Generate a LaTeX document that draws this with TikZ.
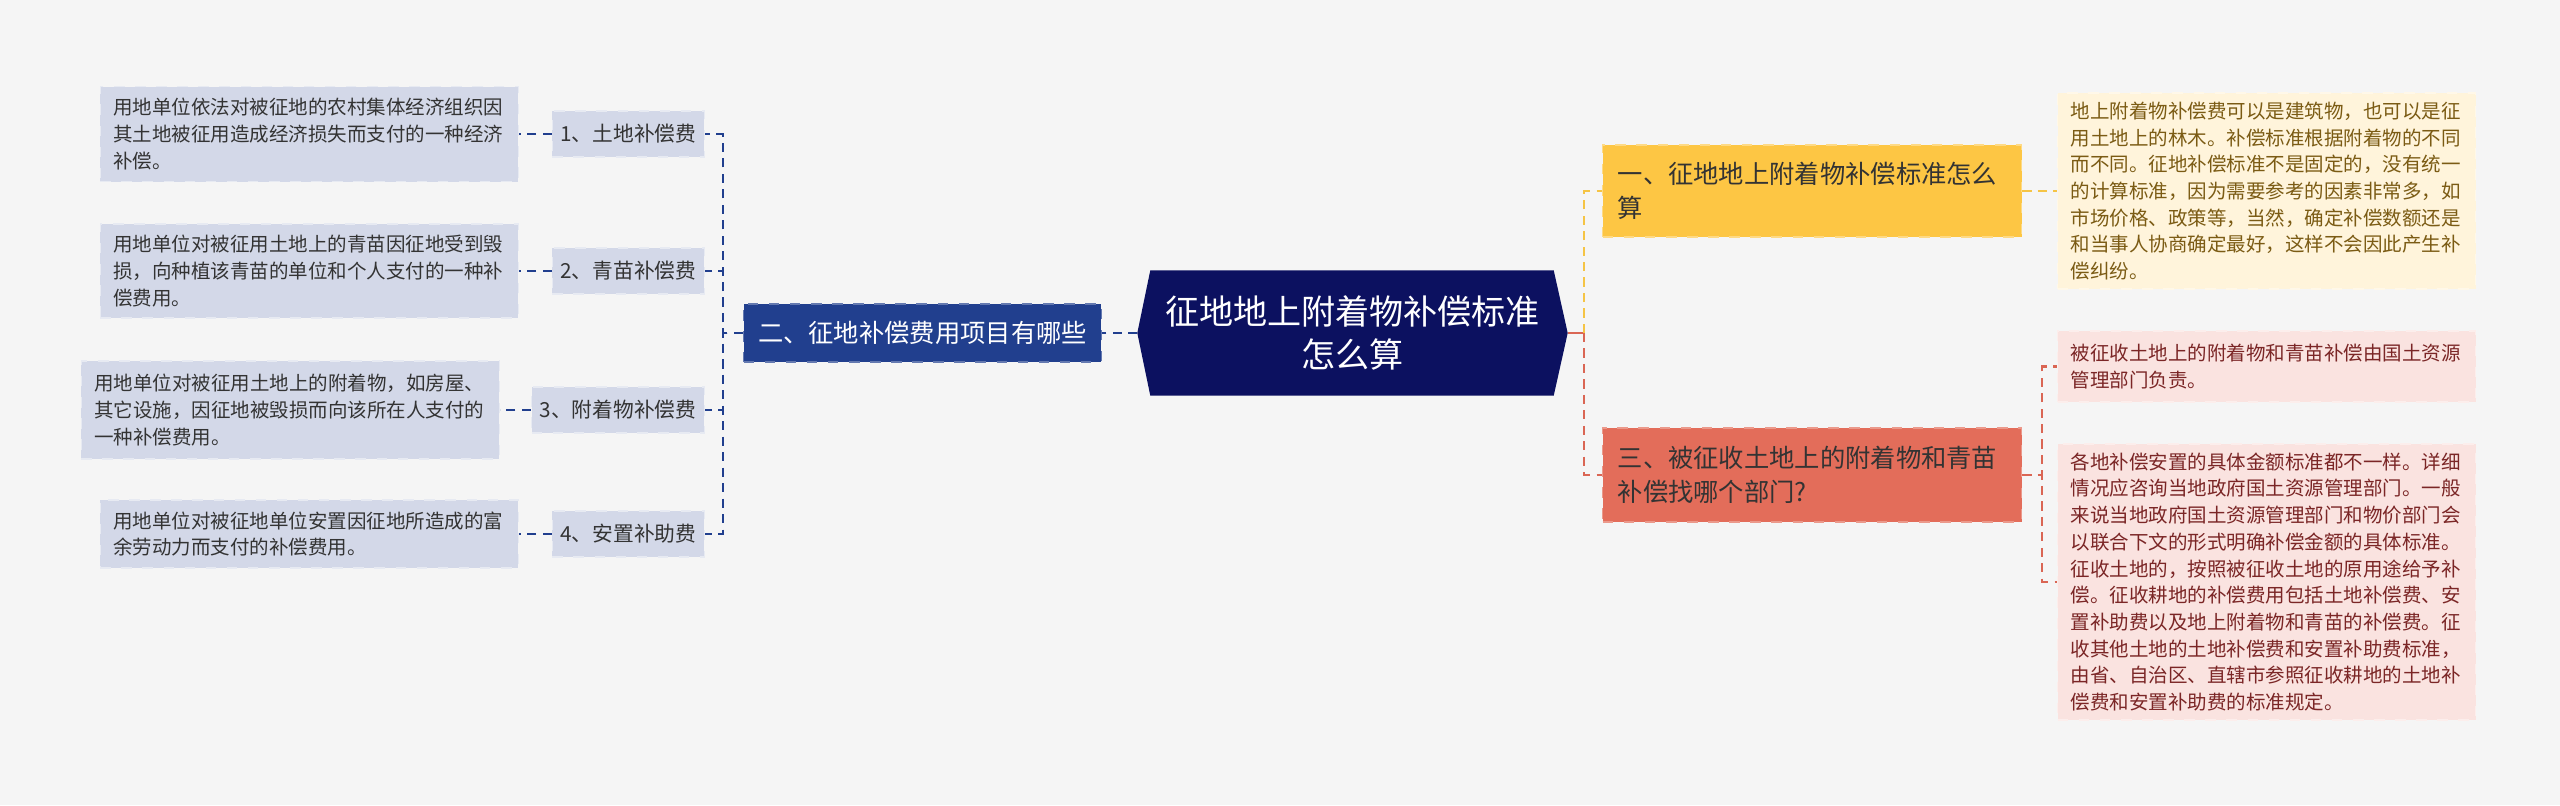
\documentclass[tikz,border=0pt]{standalone}
\usepackage{fontspec}
\setmainfont{Noto Sans CJK SC}
\usetikzlibrary{backgrounds}

\definecolor{pagebg}{HTML}{F5F5F5}
\definecolor{rootc}{HTML}{0C1160}
\definecolor{bluec}{HTML}{213F8E}
\definecolor{leafc}{HTML}{D3D8E8}
\definecolor{textc}{HTML}{333333}
\definecolor{yellowc}{HTML}{FDC644}
\definecolor{redc}{HTML}{E36D5A}
\definecolor{creamc}{HTML}{FFF4DB}
\definecolor{creamtext}{HTML}{7B5B14}
\definecolor{pinkc}{HTML}{FAE3E0}
\definecolor{pinktext}{HTML}{7B2626}
\definecolor{ylinec}{HTML}{F5C445}
\definecolor{rlinec}{HTML}{DA6654}

\begin{document}
\begin{tikzpicture}[
    conn/.style={line width=0.6pt, dash pattern=on 2.6pt off 1.8pt},
    bline/.style={conn, draw=bluec},
    yline/.style={conn, draw=ylinec},
    rline/.style={conn, draw=rlinec},
    root/.style={rectangle, inner sep=0pt, minimum width=4.29cm, minimum height=1.24cm,
        align=center, text=white, font=\fontsize{9.7pt}{12.5pt}\selectfont},
    topic/.style={rectangle, dashed, line width=0.4pt, inner ysep=0pt, minimum height=0.58cm,
        font=\fontsize{7.2pt}{9.8pt}\selectfont},
    sub/.style={rectangle, fill=leafc, draw=white!45!leafc, dashed, line width=0.4pt,
        inner xsep=0.08cm, inner ysep=0pt, minimum height=0.46cm, text=textc,
        font=\fontsize{5.9pt}{7pt}\selectfont},
    leaf/.style={rectangle, dashed, line width=0.4pt, inner xsep=0.13cm, inner ysep=0pt,
        text width=3.92cm, align=left, font=\fontsize{5.55pt}{7.6pt}\selectfont},
    bleaf/.style={leaf, fill=leafc, draw=white!45!leafc, text=textc, anchor=east},
    pleaf/.style={leaf, fill=pinkc, draw=white!40!pinkc, text=pinktext, anchor=west}
]
    \useasboundingbox (0,0) rectangle (25.6,-8.05);

    % Centre
    \node[root] (root) at (13.525,-3.33) {征地地上附着物补偿标准\\怎么算};

    % Left branch
    \node[topic, fill=bluec, draw=white!30!bluec, inner xsep=0.145cm, text=white]
        (q2) at (9.225,-3.33) {二、征地补偿费用项目有哪些};

    \node[sub, anchor=east] (s1) at (7.05,-1.34) {1、土地补偿费};
    \node[sub, anchor=east] (s2) at (7.05,-2.71) {2、青苗补偿费};
    \node[sub, anchor=east] (s3) at (7.05,-4.10) {3、附着物补偿费};
    \node[sub, anchor=east] (s4) at (7.05,-5.34) {4、安置补助费};

    \node[bleaf, minimum height=0.95cm] (l1) at (5.19,-1.34)
        {用地单位依法对被征地的农村集体经济组织因\\其土地被征用造成经济损失而支付的一种经济\\补偿。};
    \node[bleaf, minimum height=0.94cm] (l2) at (5.19,-2.71)
        {用地单位对被征用土地上的青苗因征地受到毁\\损，向种植该青苗的单位和个人支付的一种补\\偿费用。};
    \node[bleaf, minimum height=0.98cm] (l3) at (5.00,-4.10)
        {用地单位对被征用土地上的附着物，如房屋、\\其它设施，因征地被毁损而向该所在人支付的\\一种补偿费用。};
    \node[bleaf, minimum height=0.68cm] (l4) at (5.19,-5.34)
        {用地单位对被征地单位安置因征地所造成的富\\余劳动力而支付的补偿费用。};

    % Right branch
    \node[topic, fill=yellowc, draw=white!35!yellowc, anchor=west, inner xsep=0.15cm,
        text width=3.89cm, align=left, minimum height=0.92cm, text=textc]
        (y1) at (16.02,-1.91) {一、征地地上附着物补偿标准怎么\\算};
    \node[topic, fill=redc, draw=white!30!redc, anchor=west, inner xsep=0.15cm,
        text width=3.89cm, align=left, minimum height=0.94cm, text=textc]
        (y3) at (16.02,-4.75) {三、被征收土地上的附着物和青苗\\补偿找哪个部门?};

    \node[leaf, fill=creamc, draw=white!40!creamc, text=creamtext, anchor=west,
        minimum height=1.96cm] (r1) at (20.57,-1.91)
        {地上附着物补偿费可以是建筑物，也可以是征\\用土地上的林木。补偿标准根据附着物的不同\\而不同。征地补偿标准不是固定的，没有统一\\的计算标准，因为需要参考的因素非常多，如\\市场价格、政策等，当然，确定补偿数额还是\\和当事人协商确定最好，这样不会因此产生补\\偿纠纷。};
    \node[pleaf, minimum height=0.71cm] (r2) at (20.57,-3.665)
        {被征收土地上的附着物和青苗补偿由国土资源\\管理部门负责。};
    \node[pleaf, minimum height=2.76cm] (r3) at (20.57,-5.82)
        {各地补偿安置的具体金额标准都不一样。详细\\情况应咨询当地政府国土资源管理部门。一般\\来说当地政府国土资源管理部门和物价部门会\\以联合下文的形式明确补偿金额的具体标准。\\征收土地的，按照被征收土地的原用途给予补\\偿。征收耕地的补偿费用包括土地补偿费、安\\置补助费以及地上附着物和青苗的补偿费。征\\收其他土地的土地补偿费和安置补助费标准，\\由省、自治区、直辖市参照征收耕地的土地补\\偿费和安置补助费的标准规定。};

    % Connectors
    \draw[bline] (root.west) -- (q2.east);
    \foreach \s in {s1,s2,s3,s4}
        \draw[bline] (q2.west) -- ([xshift=-0.2cm]q2.west) |- (\s.east);
    \foreach \s/\l in {s1/l1,s2/l2,s3/l3,s4/l4}
        \draw[bline] (\s.west) -- (\l.east);

    \coordinate (rj) at (15.84,-3.33);
    \draw[rlinec, line width=0.8pt] (root.east) -- (rj);
    \draw[yline] (rj) |- (y1.west);
    \draw[rline] (rj) |- (y3.west);
    \draw[yline] (y1.east) -- (r1.west);
    \foreach \r in {r2,r3}
        \draw[rline] (y3.east) -- ([xshift=0.2cm]y3.east) |- (\r.west);

    % Background and hexagon
    \begin{scope}[on background layer]
        \fill[pagebg] (0,0) rectangle (25.6,-8.05);
        \fill[rootc] ([xshift=0.13cm]root.north west) -- ([xshift=-0.14cm]root.north east)
            -- (root.east) -- ([xshift=-0.14cm]root.south east)
            -- ([xshift=0.13cm]root.south west) -- (root.west) -- cycle;
    \end{scope}
\end{tikzpicture}
\end{document}
